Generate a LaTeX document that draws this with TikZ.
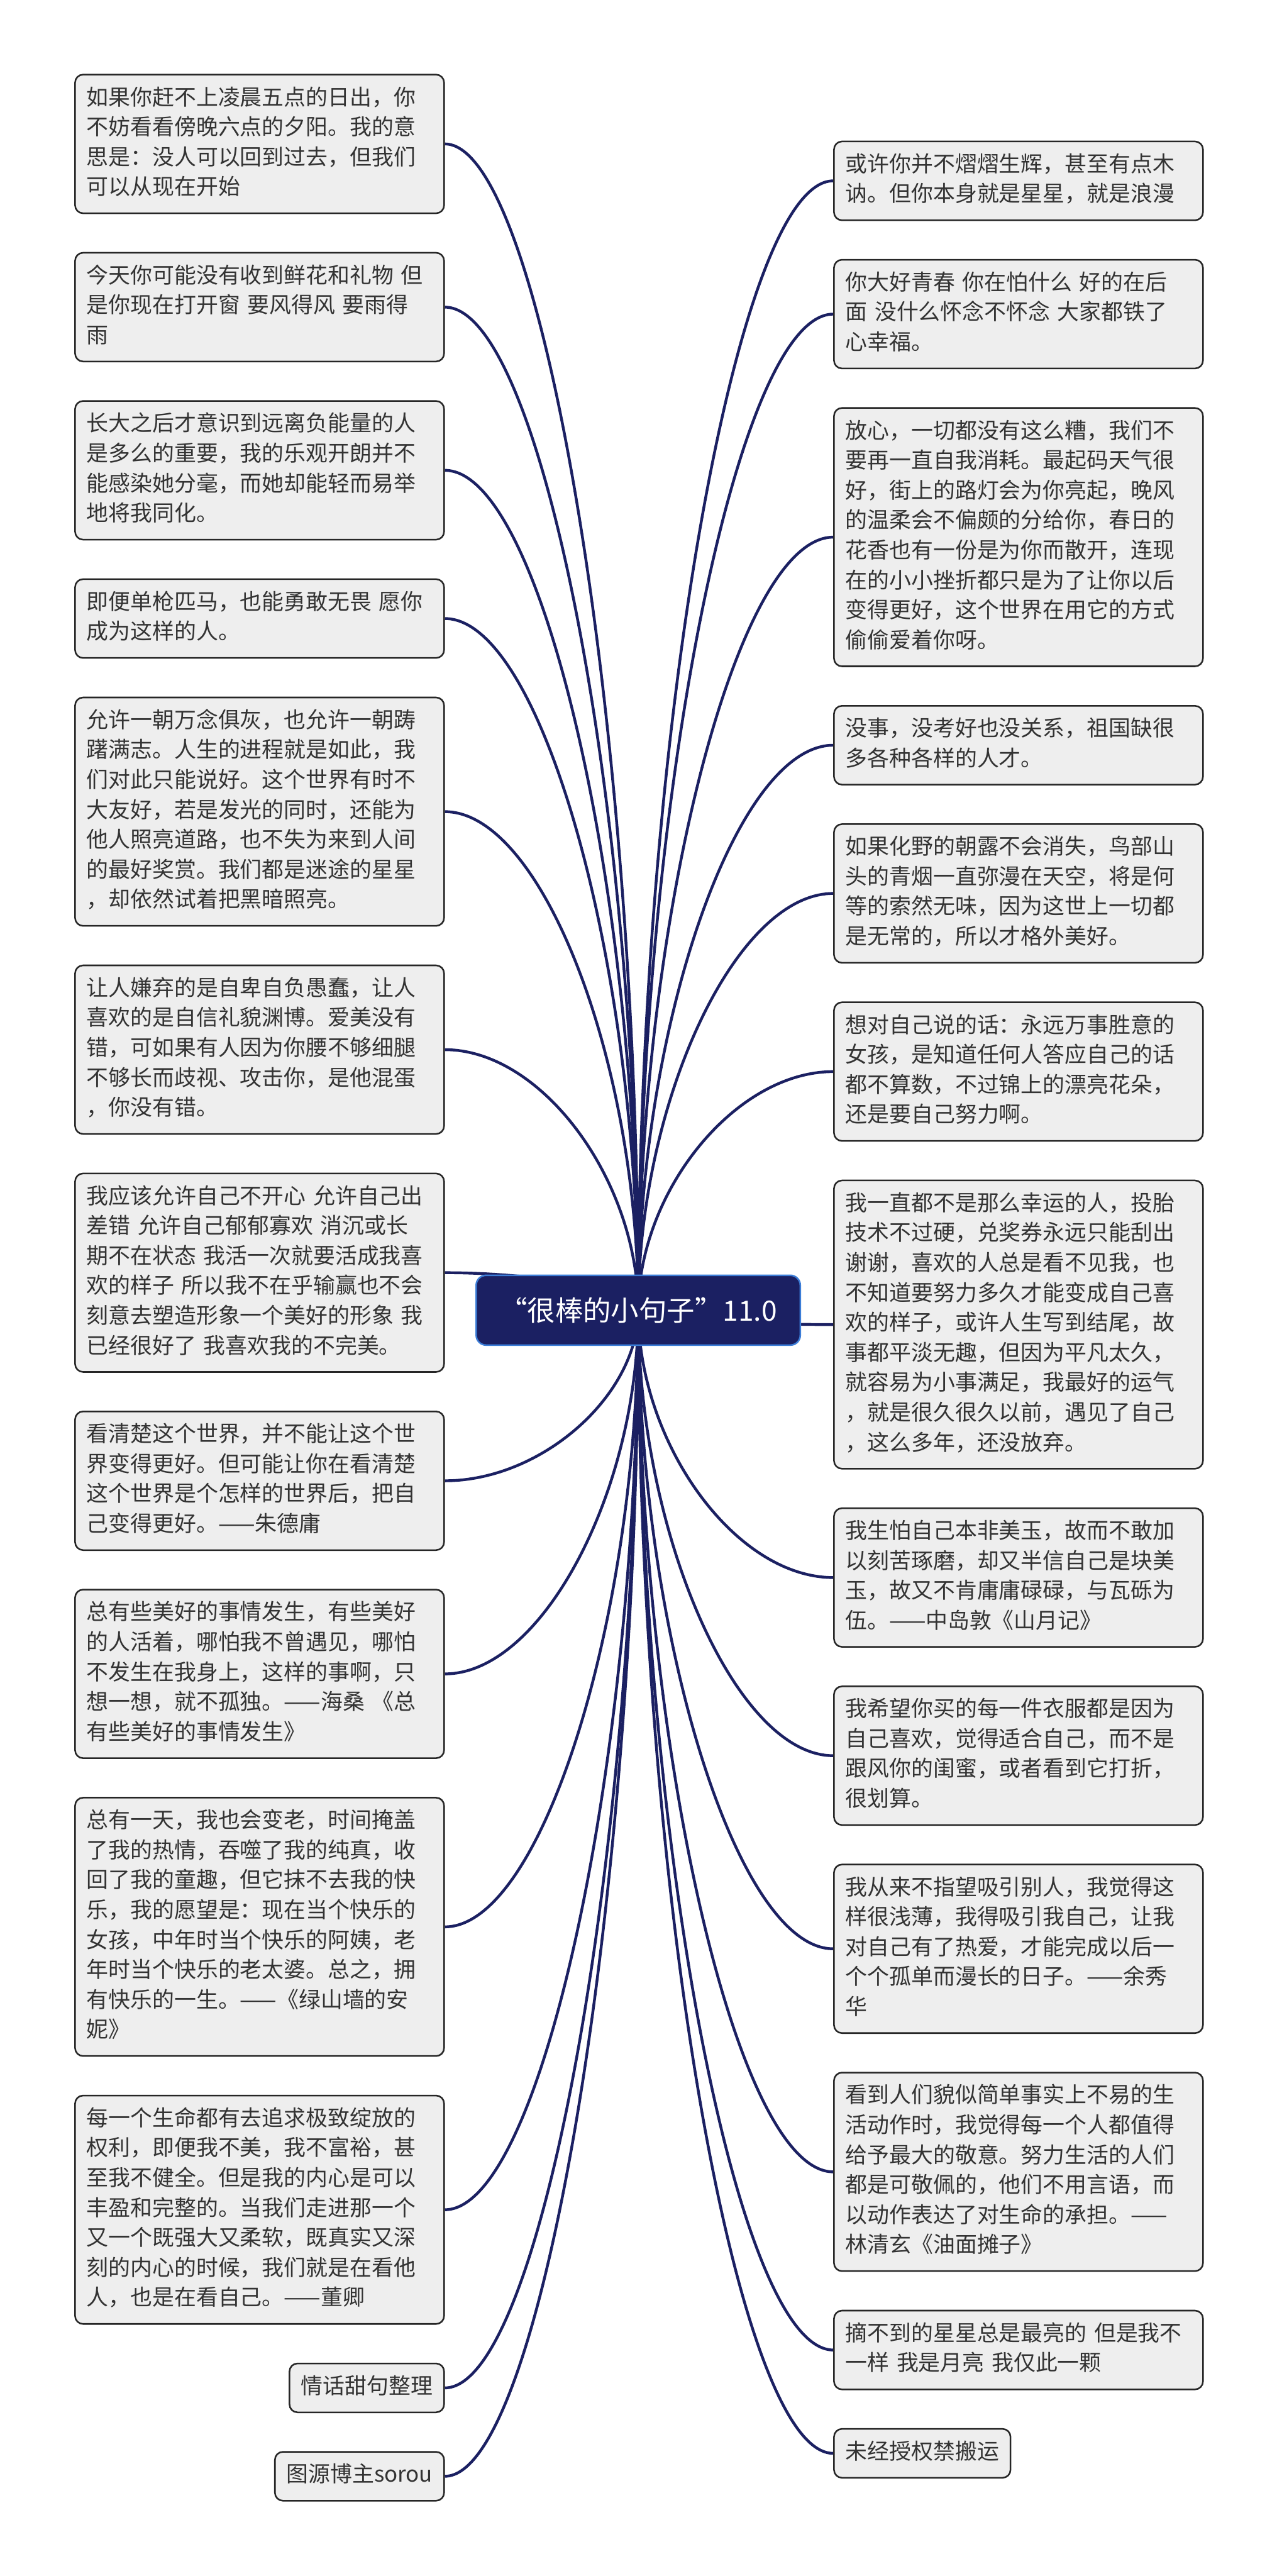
\documentclass[tikz,border=0pt]{standalone}
\usepackage{fontspec}
\usepackage{tikz}
\usetikzlibrary{positioning,calc,backgrounds}
\newfontfamily\cjkfont{Noto Sans CJK SC}
\definecolor{navy}{RGB}{27,32,98}
\definecolor{rim}{RGB}{60,125,215}
\definecolor{leafgray}{RGB}{238,238,238}
\definecolor{inkgray}{RGB}{51,51,51}

\begin{document}
\begin{tikzpicture}[node distance=19pt,
  leaf node/.style={draw=black!85,line width=0.8pt,fill=leafgray,rounded corners=4pt,
    text=inkgray,font=\cjkfont\fontsize{11pt}{15pt}\selectfont,
    inner xsep=5.75pt,inner ysep=4.75pt,align=left,
    execute at begin node=\strut,execute at end node=\strut},
  wide node/.style={leaf node,text width=173.5pt},
  main node/.style={fill=navy,draw=rim,line width=0.8pt,rounded corners=5pt,text=white,
    font=\cjkfont\fontsize{14pt}{17pt}\selectfont,minimum width=162.5pt,minimum height=35pt},
  branch/.style={draw=navy,line width=1.4pt,
    to path={.. controls ($(\tikztostart)!.5!(\tikztotarget |- \tikztostart)$)
      and ($(\tikztotarget)!.5!(\tikztotarget |- \tikztostart)$) .. (\tikztotarget)}}]
  \node[main node] (main) at (320pt,-656.75pt) {“很棒的小句子”11.0};

  \node[wide node,anchor=north west] (left_1) at (37.25pt,-37pt) {如果你赶不上凌晨五点的日出，你\\不妨看看傍晚六点的夕阳。我的意\\思是：没人可以回到过去，但我们\\可以从现在开始};
  \node[wide node] (left_2) [below=of left_1] {今天你可能没有收到鲜花和礼物 但\\是你现在打开窗 要风得风 要雨得\\雨};
  \node[wide node] (left_3) [below=of left_2] {长大之后才意识到远离负能量的人\\是多么的重要，我的乐观开朗并不\\能感染她分毫，而她却能轻而易举\\地将我同化。};
  \node[wide node] (left_4) [below=of left_3] {即便单枪匹马，也能勇敢无畏 愿你\\成为这样的人。};
  \node[wide node] (left_5) [below=of left_4] {允许一朝万念俱灰，也允许一朝踌\\躇满志。人生的进程就是如此，我\\们对此只能说好。这个世界有时不\\大友好，若是发光的同时，还能为\\他人照亮道路，也不失为来到人间\\的最好奖赏。我们都是迷途的星星\\，却依然试着把黑暗照亮。};
  \node[wide node] (left_6) [below=of left_5] {让人嫌弃的是自卑自负愚蠢，让人\\喜欢的是自信礼貌渊博。爱美没有\\错，可如果有人因为你腰不够细腿\\不够长而歧视、攻击你，是他混蛋\\，你没有错。};
  \node[wide node] (left_7) [below=of left_6] {我应该允许自己不开心 允许自己出\\差错 允许自己郁郁寡欢 消沉或长\\期不在状态 我活一次就要活成我喜\\欢的样子 所以我不在乎输赢也不会\\刻意去塑造形象一个美好的形象 我\\已经很好了 我喜欢我的不完美。};
  \node[wide node] (left_8) [below=of left_7] {看清楚这个世界，并不能让这个世\\界变得更好。但可能让你在看清楚\\这个世界是个怎样的世界后，把自\\己变得更好。——朱德庸};
  \node[wide node] (left_9) [below=of left_8] {总有些美好的事情发生，有些美好\\的人活着，哪怕我不曾遇见，哪怕\\不发生在我身上，这样的事啊，只\\想一想，就不孤独。——海桑 《总\\有些美好的事情发生》};
  \node[wide node] (left_10) [below=of left_9] {总有一天，我也会变老，时间掩盖\\了我的热情，吞噬了我的纯真，收\\回了我的童趣，但它抹不去我的快\\乐，我的愿望是：现在当个快乐的\\女孩，中年时当个快乐的阿姨，老\\年时当个快乐的老太婆。总之，拥\\有快乐的一生。——《绿山墙的安\\妮》};
  \node[wide node] (left_11) [below=of left_10] {每一个生命都有去追求极致绽放的\\权利，即便我不美，我不富裕，甚\\至我不健全。但是我的内心是可以\\丰盈和完整的。当我们走进那一个\\又一个既强大又柔软，既真实又深\\刻的内心的时候，我们就是在看他\\人，也是在看自己。——董卿};
  \node[leaf node] (left_12) [below=of left_11.south east,anchor=north east] {情话甜句整理};
  \node[leaf node] (left_13) [below=of left_12.south east,anchor=north east] {图源博主sorou};

  \node[wide node,anchor=north west] (right_1) at (417.75pt,-70.5pt) {或许你并不熠熠生辉，甚至有点木\\讷。但你本身就是星星，就是浪漫};
  \node[wide node] (right_2) [below=of right_1] {你大好青春 你在怕什么 好的在后\\面 没什么怀念不怀念 大家都铁了\\心幸福。};
  \node[wide node] (right_3) [below=of right_2] {放心，一切都没有这么糟，我们不\\要再一直自我消耗。最起码天气很\\好，街上的路灯会为你亮起，晚风\\的温柔会不偏颇的分给你，春日的\\花香也有一份是为你而散开，连现\\在的小小挫折都只是为了让你以后\\变得更好，这个世界在用它的方式\\偷偷爱着你呀。};
  \node[wide node] (right_4) [below=of right_3] {没事，没考好也没关系，祖国缺很\\多各种各样的人才。};
  \node[wide node] (right_5) [below=of right_4] {如果化野的朝露不会消失，鸟部山\\头的青烟一直弥漫在天空，将是何\\等的索然无味，因为这世上一切都\\是无常的，所以才格外美好。};
  \node[wide node] (right_6) [below=of right_5] {想对自己说的话：永远万事胜意的\\女孩，是知道任何人答应自己的话\\都不算数，不过锦上的漂亮花朵，\\还是要自己努力啊。};
  \node[wide node] (right_7) [below=of right_6] {我一直都不是那么幸运的人，投胎\\技术不过硬，兑奖券永远只能刮出\\谢谢，喜欢的人总是看不见我，也\\不知道要努力多久才能变成自己喜\\欢的样子，或许人生写到结尾，故\\事都平淡无趣，但因为平凡太久，\\就容易为小事满足，我最好的运气\\，就是很久很久以前，遇见了自己\\，这么多年，还没放弃。};
  \node[wide node] (right_8) [below=of right_7] {我生怕自己本非美玉，故而不敢加\\以刻苦琢磨，却又半信自己是块美\\玉，故又不肯庸庸碌碌，与瓦砾为\\伍。——中岛敦《山月记》};
  \node[wide node] (right_9) [below=of right_8] {我希望你买的每一件衣服都是因为\\自己喜欢，觉得适合自己，而不是\\跟风你的闺蜜，或者看到它打折，\\很划算。};
  \node[wide node] (right_10) [below=of right_9] {我从来不指望吸引别人，我觉得这\\样很浅薄，我得吸引我自己，让我\\对自己有了热爱，才能完成以后一\\个个孤单而漫长的日子。——余秀\\华};
  \node[wide node] (right_11) [below=of right_10] {看到人们貌似简单事实上不易的生\\活动作时，我觉得每一个人都值得\\给予最大的敬意。努力生活的人们\\都是可敬佩的，他们不用言语，而\\以动作表达了对生命的承担。——\\林清玄《油面摊子》};
  \node[wide node] (right_12) [below=of right_11] {摘不到的星星总是最亮的 但是我不\\一样 我是月亮 我仅此一颗};
  \node[leaf node] (right_13) [below=of right_12.south west,anchor=north west] {未经授权禁搬运};

  \begin{scope}[on background layer]
    \fill[white] (0,0) rectangle (640pt,-1291.25pt);
    \path
      (left_1.east) edge[branch] (main.center)
      (left_2.east) edge[branch] (main.center)
      (left_3.east) edge[branch] (main.center)
      (left_4.east) edge[branch] (main.center)
      (left_5.east) edge[branch] (main.center)
      (left_6.east) edge[branch] (main.center)
      (left_7.east) edge[branch] (main.center)
      (left_8.east) edge[branch] (main.center)
      (left_9.east) edge[branch] (main.center)
      (left_10.east) edge[branch] (main.center)
      (left_11.east) edge[branch] (main.center)
      (left_12.east) edge[branch] (main.center)
      (left_13.east) edge[branch] (main.center)
      (right_1.west) edge[branch] (main.center)
      (right_2.west) edge[branch] (main.center)
      (right_3.west) edge[branch] (main.center)
      (right_4.west) edge[branch] (main.center)
      (right_5.west) edge[branch] (main.center)
      (right_6.west) edge[branch] (main.center)
      (right_7.west) edge[branch] (main.center)
      (right_8.west) edge[branch] (main.center)
      (right_9.west) edge[branch] (main.center)
      (right_10.west) edge[branch] (main.center)
      (right_11.west) edge[branch] (main.center)
      (right_12.west) edge[branch] (main.center)
      (right_13.west) edge[branch] (main.center);
  \end{scope}
\end{tikzpicture}
\end{document}
